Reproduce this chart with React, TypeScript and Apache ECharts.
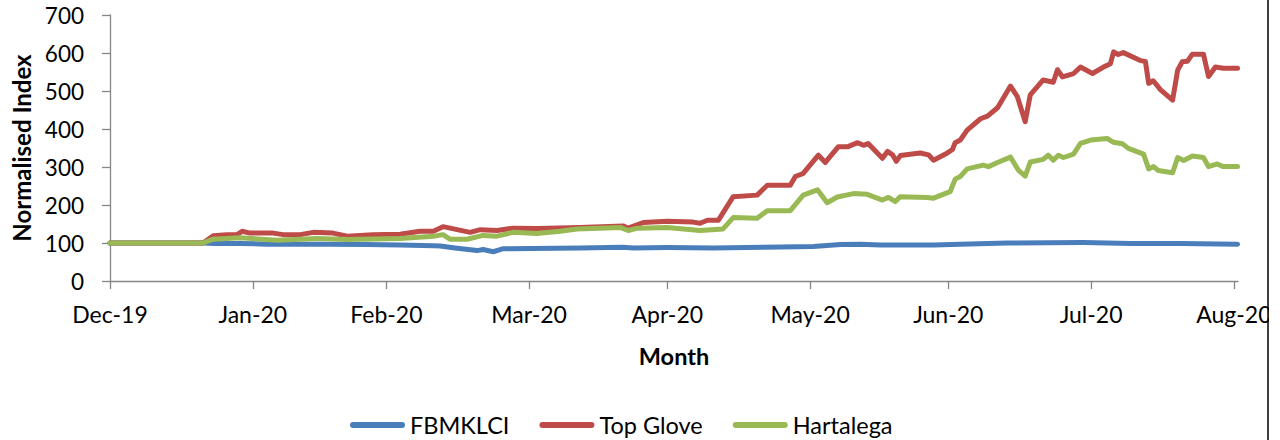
import React, { useEffect, useRef } from "react";
import * as echarts from "echarts";

// x positions are day offsets counted from 31-Dec-2019
const tickDays = [0, 31, 60, 91, 121, 152, 182, 213, 244];
const tickLabels = ["Dec-19", "Jan-20", "Feb-20", "Mar-20", "Apr-20", "May-20", "Jun-20", "Jul-20", "Aug-20"];
const yTicks = [0, 100, 200, 300, 400, 500, 600, 700];

const klciDays = [0, 20.2, 22.8, 28.2, 34.1, 47.8, 55.8, 63, 70.2, 71.7, 74.9, 79.7, 81, 83.2, 85.4, 102, 111.4, 113.6, 121, 131, 141.8, 152.7, 156.4, 158.6, 162.9, 167.2, 178.8, 184.6, 194.8, 211.3, 221.5, 232.4, 244.8];
const klciValues = [100, 100, 99, 99, 97, 97, 96, 95, 93, 92, 87, 80, 83, 77, 85, 87, 89, 87, 88, 87, 89, 91, 94, 96, 97, 95, 95, 97, 100, 101, 99, 99, 97];

const topGloveDays = [0, 20.2, 22.4, 25.4, 27.6, 28.7, 30.4, 35.4, 37.6, 41.3, 44.1, 48.4, 51.5, 57.1, 63, 67.3, 70.2, 72.3, 78.2, 80.4, 84, 87.5, 92.7, 102, 111.4, 112.5, 115.8, 121, 126.6, 128.1, 129.7, 132.1, 135.3, 140.5, 142.7, 147.7, 148.8, 150.5, 153.8, 155.3, 158.1, 160.1, 162.3, 163.6, 164.6, 167.7, 168.8, 169.9, 170.7, 171.6, 175.9, 177.7, 178.8, 181.8, 182.9, 183.5, 184.6, 186.1, 189, 190.5, 192.7, 195.5, 197, 198.7, 199.8, 202.6, 204.8, 205.7, 206.8, 209.2, 210.7, 213.3, 215.7, 217.2, 217.9, 218.9, 220, 223.7, 224.8, 225.5, 226.5, 228.1, 230.7, 231.8, 232.8, 233.9, 235, 237.4, 238.5, 240, 241.7, 244.8];
const topGloveValues = [100, 100, 119, 122, 122, 131, 126, 126, 122, 122, 128, 126, 118, 122, 123, 131, 131, 143, 128, 135, 133, 139, 138, 141, 145, 139, 154, 157, 155, 152, 160, 160, 222, 226, 252, 252, 275, 283, 331, 312, 353, 353, 364, 357, 362, 323, 341, 332, 315, 330, 337, 332, 318, 337, 346, 364, 371, 397, 427, 434, 456, 513, 485, 419, 490, 529, 523, 556, 537, 546, 563, 546, 563, 572, 603, 596, 601, 580, 578, 520, 527, 503, 476, 555, 577, 578, 597, 597, 538, 563, 560, 560];

const hartalegaDays = [0, 20.2, 22.4, 28.2, 36.3, 45, 51.5, 63, 70.2, 72.3, 73.8, 77.5, 81, 84, 87.5, 92.7, 97.7, 101.4, 110.8, 112.5, 114.5, 121, 128.1, 133.1, 135.3, 140.5, 142.7, 147.7, 150.5, 153.6, 155.7, 157.9, 161.4, 164.4, 167.7, 169, 170.5, 171.6, 177.5, 178.8, 182.4, 183.5, 184.6, 186.1, 189.6, 190.7, 192.7, 195.5, 197.2, 198.7, 199.8, 202.6, 203.7, 204.8, 205.9, 207, 209.2, 210.7, 212.9, 216.5, 217.9, 219.8, 221.1, 224.4, 225.5, 226.5, 227.6, 230.7, 231.8, 233.1, 235, 237.4, 238.5, 240.4, 241.7, 244.8];
const hartalegaValues = [100, 100, 110, 114, 107, 112, 109, 112, 118, 122, 110, 110, 120, 118, 128, 125, 131, 137, 141, 133, 139, 141, 133, 137, 167, 165, 185, 185, 226, 240, 206, 221, 230, 228, 213, 220, 209, 222, 220, 218, 235, 268, 275, 295, 305, 301, 312, 326, 292, 276, 313, 320, 331, 318, 331, 325, 334, 362, 371, 375, 365, 361, 349, 334, 295, 301, 291, 285, 325, 317, 329, 325, 301, 308, 301, 301];

const seriesNames = ["FBMKLCI", "Top Glove", "Hartalega"];
const seriesColors = ["#4A7EBB", "#BE4B48", "#98B954"];

const FONT = "Lato";
const AXIS_COLOR = "#868686";

function pairs(days: number[], values: number[]) {
  return days.map((d, i) => [d, values[i]]);
}

export default function App() {
  const ref = useRef<HTMLDivElement>(null);
  useEffect(() => {
    if (!ref.current) return;
    const chart = echarts.init(ref.current, null, { renderer: "svg" });
    const allData = [
      pairs(klciDays, klciValues),
      pairs(topGloveDays, topGloveValues),
      pairs(hartalegaDays, hartalegaValues),
    ];
    chart.setOption({
      animation: false,
      backgroundColor: "#ffffff",
      grid: { left: 110, right: 42, top: 15, bottom: 159 },
      legend: {
        top: 413,
        left: 350,
        padding: 0,
        itemWidth: 55,
        itemHeight: 6,
        itemGap: 30,
        icon: "path://M3,0 L52,0 A3,3 0 0 1 52,6 L3,6 A3,3 0 0 1 3,0 Z",
        textStyle: { fontFamily: FONT, fontSize: 23.5, lineHeight: 22, color: "#000" },
        data: seriesNames,
      },
      xAxis: {
        type: "value",
        min: 0,
        max: 244.9,
        name: "Month",
        nameLocation: "middle",
        nameGap: 63,
        nameTextStyle: { fontFamily: FONT, fontSize: 23.5, fontWeight: "bold", color: "#000" },
        axisLine: { show: true, lineStyle: { color: AXIS_COLOR, width: 1.3 } },
        axisTick: { show: true, length: 8, customValues: tickDays, lineStyle: { color: AXIS_COLOR, width: 1.3 } },
        axisLabel: {
          customValues: tickDays,
          margin: 21,
          fontFamily: FONT,
          fontSize: 23,
          color: "#000",
          formatter: (v: number) => {
            const i = tickDays.indexOf(Math.round(v));
            return i >= 0 ? tickLabels[i] : "";
          },
        },
        splitLine: { show: false },
      },
      yAxis: {
        type: "value",
        min: yTicks[0],
        max: yTicks[yTicks.length - 1],
        interval: 100,
        name: "Normalised Index",
        nameLocation: "middle",
        nameRotate: 90,
        nameGap: 77,
        nameTextStyle: { fontFamily: FONT, fontSize: 24, fontWeight: "bold", color: "#000" },
        axisLine: { show: true, lineStyle: { color: AXIS_COLOR, width: 1.3 } },
        axisTick: { show: true, length: 8, lineStyle: { color: AXIS_COLOR, width: 1.3 } },
        axisLabel: { margin: 26, fontFamily: FONT, fontSize: 22.5, color: "#000" },
        splitLine: { show: false },
      },
      series: seriesNames.map((name, i) => ({
        name,
        type: "line",
        data: allData[i],
        showSymbol: false,
        symbol: "none",
        color: seriesColors[i],
        lineStyle: { width: 5, color: seriesColors[i], cap: "round", join: "round" },
        z: 2 + i,
      })),
      graphic: [
        { type: "rect", shape: { x: 1269, y: 0, width: 11, height: 440 }, style: { fill: "#fff" }, z: 100 },
        { type: "line", shape: { x1: 1268, y1: 0, x2: 1268, y2: 440 }, style: { stroke: "#000", lineWidth: 1.5 }, z: 101 },
      ],
    });
    return () => chart.dispose();
  }, []);
  return (
    <div
      ref={ref}
      style={{ position: "fixed", left: 0, top: 0, width: 1280, height: 440, background: "#fff" }}
    />
  );
}
